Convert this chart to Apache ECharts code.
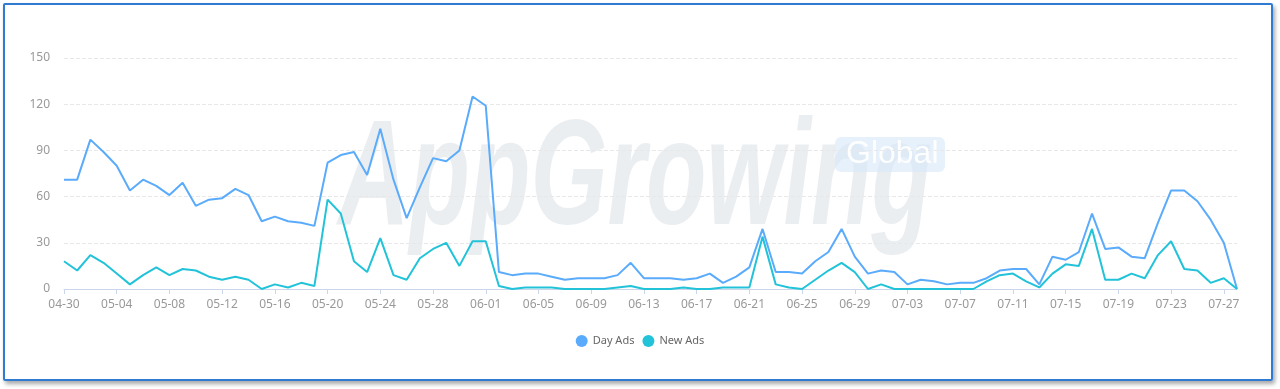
<!DOCTYPE html>
<html>
<head>
<meta charset="utf-8">
<script src="https://cdn.jsdelivr.net/npm/echarts@6/dist/echarts.min.js"></script>
<style>
html,body{margin:0;padding:0;background:#fff;}
#wrap{position:absolute;left:0;top:0;width:1280px;height:389px;}
#frame{position:absolute;left:3px;top:3px;width:1266px;height:374px;border:2px solid #2f7bd3;border-radius:2px;box-shadow:2px 3px 4px rgba(0,0,0,0.35);pointer-events:none;}
#chart{position:absolute;left:0;top:0;width:1280px;height:389px;}
</style>
</head>
<body>
<div id="wrap"><div id="chart"></div><div id="frame"></div></div>
<script>
const categories = [
 '04-30','05-01','05-02','05-03','05-04','05-05','05-06','05-07','05-08','05-09','05-10','05-11','05-12','05-13','05-14','05-15','05-16','05-17','05-18','05-19','05-20','05-21','05-22','05-23','05-24','05-25','05-26','05-27','05-28','05-29','05-30','05-31',
 '06-01','06-02','06-03','06-04','06-05','06-06','06-07','06-08','06-09','06-10','06-11','06-12','06-13','06-14','06-15','06-16','06-17','06-18','06-19','06-20','06-21','06-22','06-23','06-24','06-25','06-26','06-27','06-28','06-29','06-30',
 '07-01','07-02','07-03','07-04','07-05','07-06','07-07','07-08','07-09','07-10','07-11','07-12','07-13','07-14','07-15','07-16','07-17','07-18','07-19','07-20','07-21','07-22','07-23','07-24','07-25','07-26','07-27','07-28'
];
const dayAds = [
 71,71,97,89,80,64,71,67,61,69,54,58,59,65,61,44,47,44,43,41,
 82,87,89,74,104,71,46,66,85,83,90,125,119,11,9,10,10,8,6,7,
 7,7,9,17,7,7,7,6,7,10,4,8,14,39,11,11,10,18,24,39,
 21,10,12,11,3,6,5,3,4,4,7,12,13,13,3,21,19,24,49,26,
 27,21,20,43,64,64,57,45,30,0
];
const newAds = [
 18,12,22,17,10,3,9,14,9,13,12,8,6,8,6,0,3,1,4,2,
 58,49,18,11,33,9,6,20,26,30,15,31,31,2,0,1,1,1,0,0,
 0,0,1,2,0,0,0,1,0,0,1,1,1,34,3,1,0,6,12,17,
 11,0,3,0,0,0,0,0,0,0,5,9,10,5,1,10,16,15,39,6,
 6,10,7,22,31,13,12,4,7,0
];
const seriesNames = ['Day Ads','New Ads'];
const colors = ['#5aabfb','#22c3d9'];

const chart = echarts.init(document.getElementById('chart'), null, {renderer:'canvas'});
chart.setOption({
  animation:false,
  color: colors,
  graphic:[
    {type:'text', x:338, y:108, scaleX:0.66, z:0, silent:true,
     style:{text:'AppGrowing', font:'italic bold 150px "Liberation Sans", sans-serif', fill:'rgba(205,212,220,0.4)'}},
    {type:'rect', x:835, y:137, z:0, silent:true, shape:{width:110,height:35,r:6}, style:{fill:'rgba(215,232,250,0.6)'}},
    {type:'text', x:846, y:138, z:0, silent:true,
     style:{text:'Global', font:'32px "Liberation Sans", sans-serif', fill:'rgba(255,255,255,0.95)'}}
  ],
  grid:{left:64, right:43, top:58, bottom:100, containLabel:false},
  legend:{
    data:seriesNames, bottom:37, left:'center', icon:'circle', itemWidth:12, itemHeight:12, itemGap:8,
    textStyle:{color:'#666', fontSize:11, fontFamily:'"Noto Sans", sans-serif'}
  },
  xAxis:{
    type:'category', data:categories, boundaryGap:false,
    axisLine:{lineStyle:{color:'#ccd6eb'}},
    axisTick:{show:true, interval:3, alignWithLabel:true, lineStyle:{color:'#ccd6eb'}},
    axisLabel:{interval:3, color:'#999', fontSize:12, margin:10, fontFamily:'"Noto Sans", sans-serif'}
  },
  yAxis:{
    type:'value', min:0, max:150, interval:30,
    axisLine:{show:false}, axisTick:{show:false},
    axisLabel:{color:'#999', fontSize:12, margin:14, fontFamily:'"Noto Sans", sans-serif'},
    splitLine:{lineStyle:{color:'#e8e8e8', type:'dashed'}}
  },
  series:[
    {name:seriesNames[0], type:'line', data:dayAds, symbol:'none', lineStyle:{width:2}, z:3},
    {name:seriesNames[1], type:'line', data:newAds, symbol:'none', lineStyle:{width:2}, z:4}
  ]
});
</script>
</body>
</html>
